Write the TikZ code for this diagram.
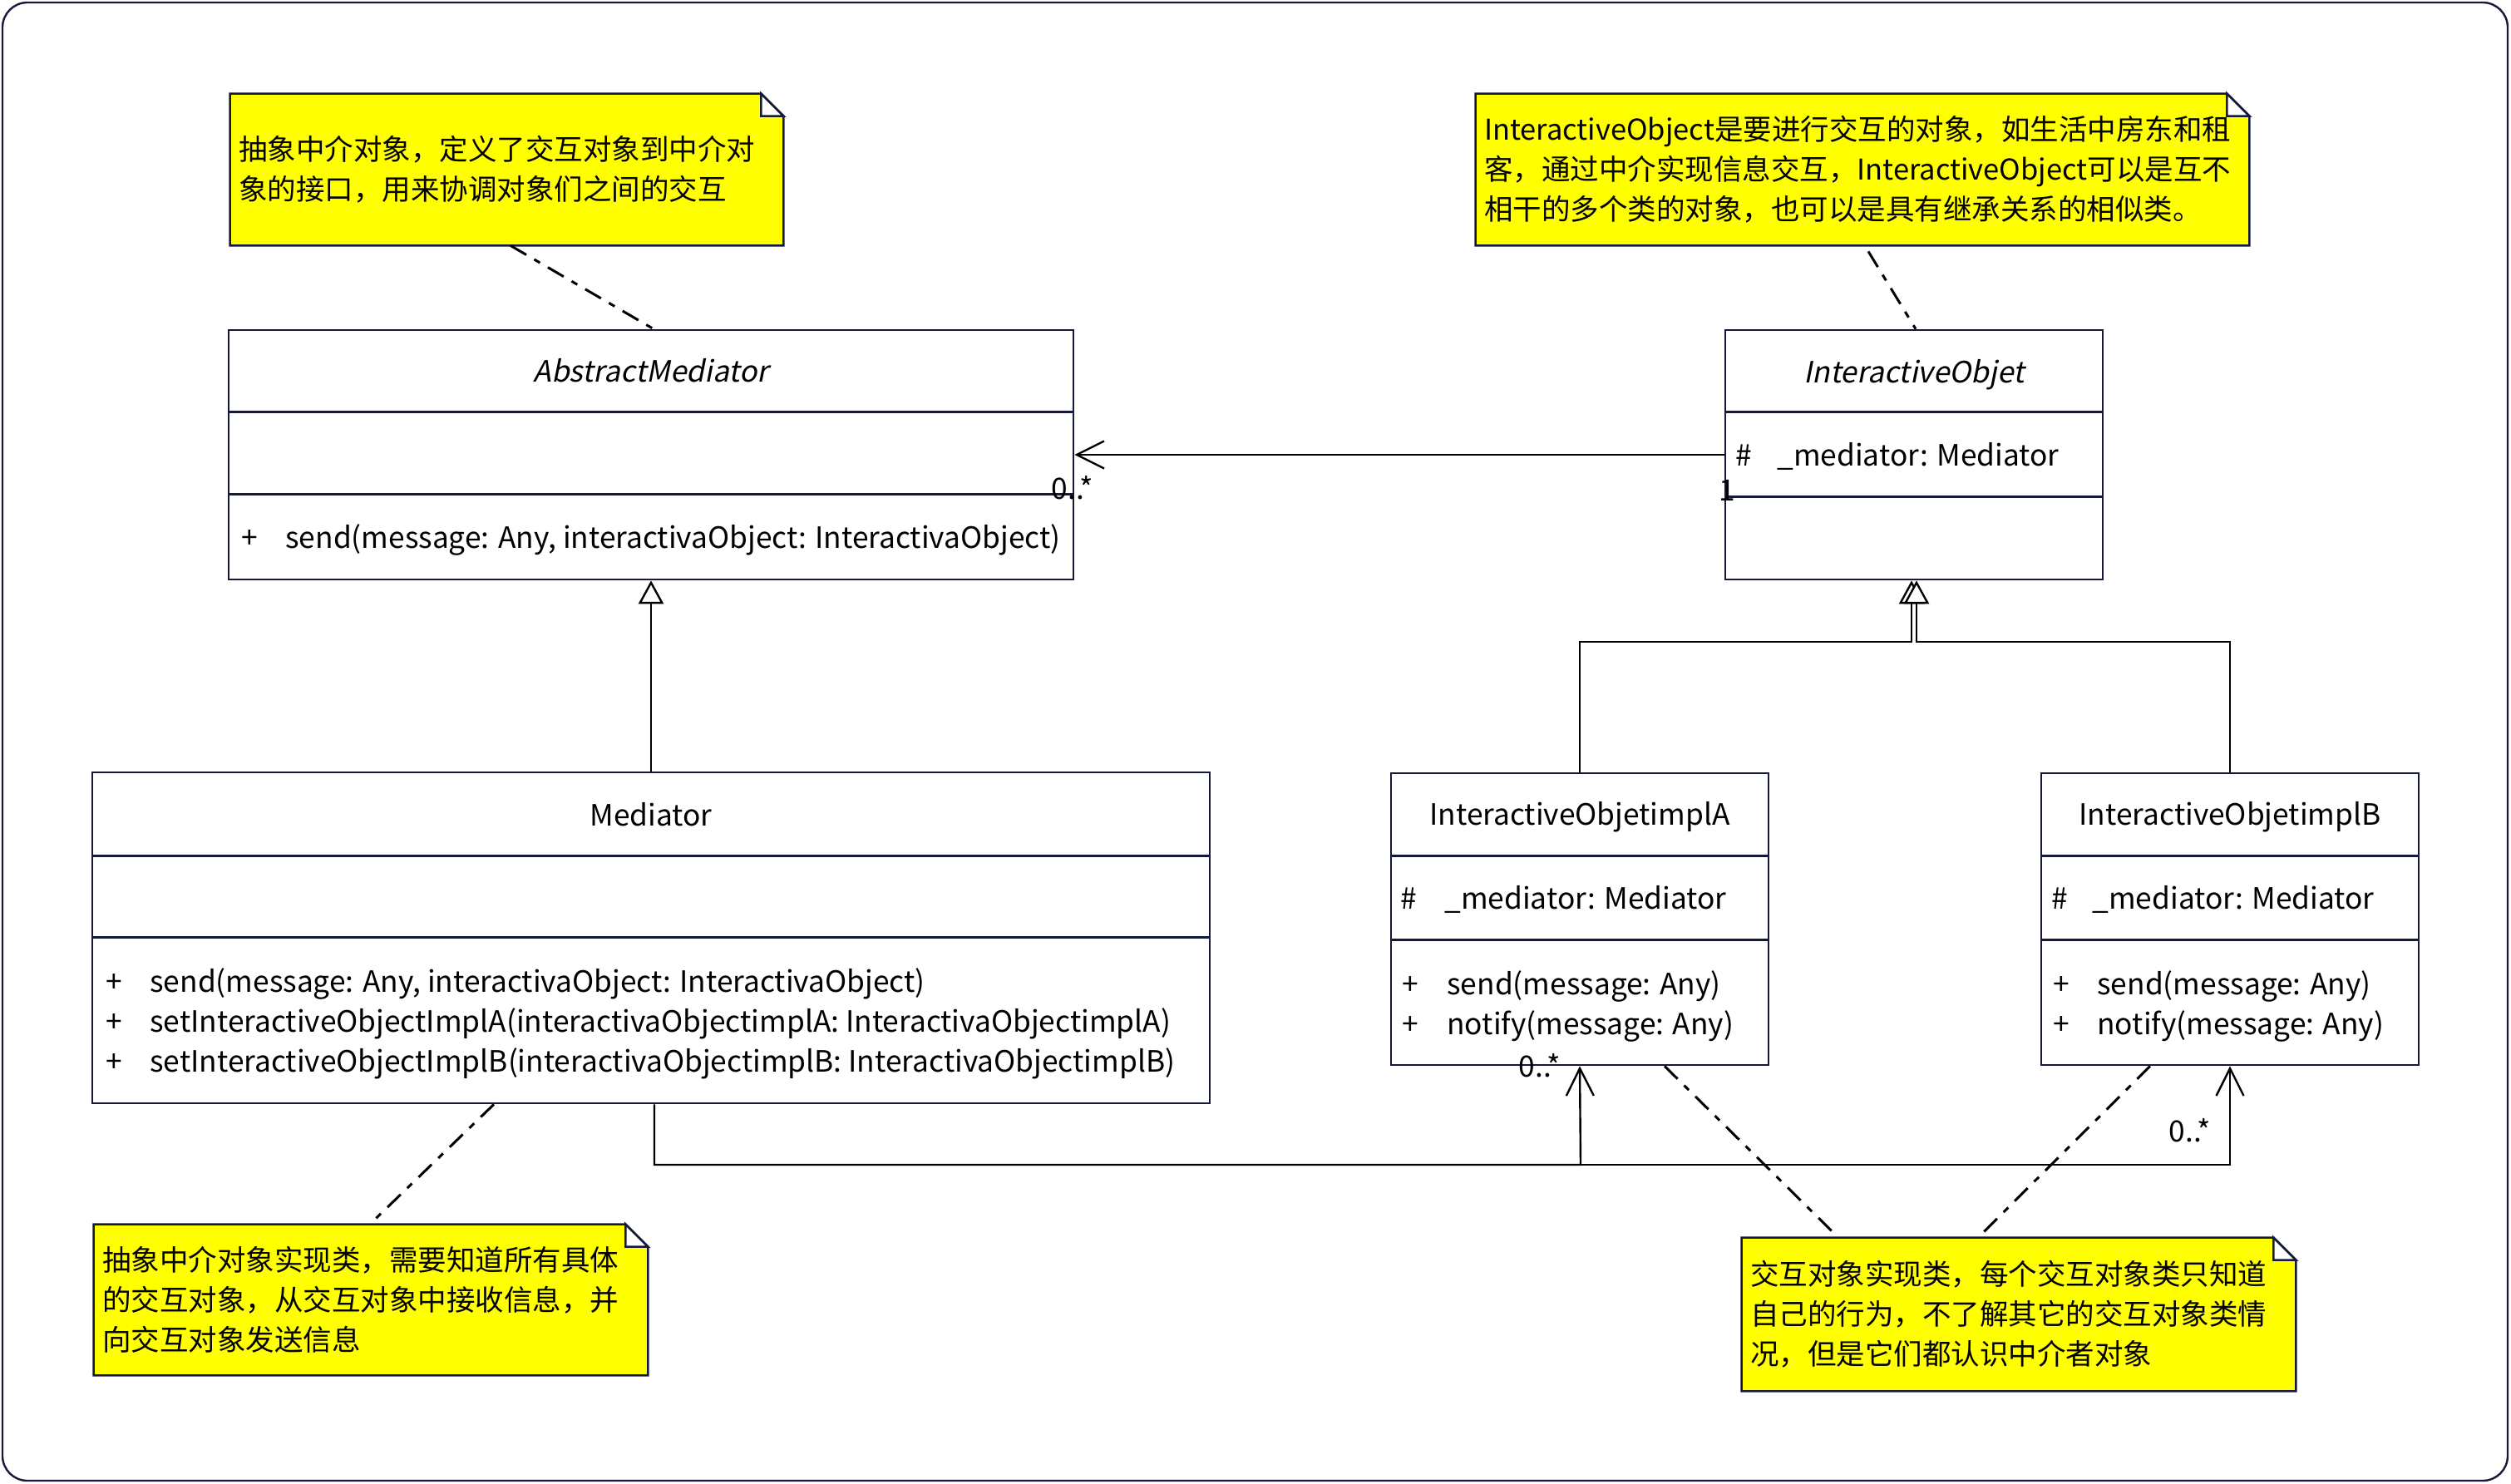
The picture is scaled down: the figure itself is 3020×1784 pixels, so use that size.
\documentclass[tikz,border=0pt]{standalone}
\usepackage{fontspec}
\setmainfont{Noto Sans CJK SC}
\newfontfamily\itfont{Noto Sans CJK SC}[FakeSlant=0.2]
\usetikzlibrary{arrows.meta,backgrounds}
\definecolor{navy}{RGB}{22,26,58}
\definecolor{noteyellow}{RGB}{255,255,0}
\newcommand\notebody[1]{%
  \begin{scope}[on background layer]
    \filldraw[notebg] (#1.north west) -- ([xshift=-13.5pt]#1.north east) -- ([yshift=-13.5pt]#1.north east) -- (#1.south east) -- (#1.south west) -- cycle;
    \filldraw[notebg, fill=white] ([xshift=-13.5pt]#1.north east) -- ([xshift=-13.5pt,yshift=-13.5pt]#1.north east) -- ([yshift=-13.5pt]#1.north east) -- cycle;
  \end{scope}}
\begin{document}
\begin{tikzpicture}[x=0.5pt,y=-0.5pt,
  font=\fontsize{17.65pt}{24pt}\selectfont,
  box/.style={draw=navy, line width=1.3pt, fill=white, inner sep=0pt},
  divl/.style={draw=navy, line width=1.3pt},
  ttl/.style={inner sep=0pt, anchor=base},
  mem/.style={inner sep=0pt, anchor=base west},
  mult/.style={inner sep=0pt},
  notetxt/.style={inner xsep=5pt, inner ysep=0pt, align=left, font=\fontsize{17.25pt}{24pt}\selectfont},
  notebg/.style={fill=noteyellow, draw=navy, line width=1.3pt},
  assoc/.style={draw=black, line width=1.2pt, -{Straight Barb[length=16.5pt,width=16.5pt]}},
  gen/.style={draw=black, line width=1.2pt, -{Triangle[open, length=14pt, width=15pt, fill=white]}},
  dnote/.style={draw=black, line width=1.5pt, dash pattern=on 11pt off 5.5pt on 4pt off 5.5pt},
  frame/.style={draw=navy, line width=1.2pt, rounded corners=15pt}]
\useasboundingbox (0,0) rectangle (3020,1784);
\draw[frame] (3,3) rectangle (3016,1781);

% ---------- classes ----------
\node[box, minimum width=508pt, minimum height=150pt] (am) at (783,547) {};
\draw[divl] ([yshift=-50pt]am.north west) -- ([yshift=-50pt]am.north east);
\draw[divl] ([yshift=-99.5pt]am.north west) -- ([yshift=-99.5pt]am.north east);
\node[ttl] (amt) at (783,459) {\itfont AbstractMediator};
\node[mem] (amp) at (290,659) {+};
\node[mem] (amo) at (343,659) {send(message: Any, interactivaObject: InteractivaObject)};

\node[box, minimum width=227pt, minimum height=150pt] (io) at (2302,547) {};
\draw[divl] ([yshift=-50pt]io.north west) -- ([yshift=-50pt]io.north east);
\draw[divl] ([yshift=-101pt]io.north west) -- ([yshift=-101pt]io.north east);
\node[ttl] (iot) at (2302,460) {\itfont InteractiveObjet};
\node[mem] (ioh) at (2087,560) {\#};
\node[mem] (ioa) at (2137,560) {\_mediator: Mediator};

\node[box, minimum width=672pt, minimum height=199pt] (med) at (783,1128) {};
\draw[divl] ([yshift=-51pt]med.north west) -- ([yshift=-51pt]med.north east);
\draw[divl] ([yshift=-100pt]med.north west) -- ([yshift=-100pt]med.north east);
\node[ttl] (medt) at (783,993) {Mediator};
\node[mem] (mp1) at (127,1193) {+};
\node[mem] (mo1) at (180,1193) {send(message: Any, interactivaObject: InteractivaObject)};
\node[mem] (mp2) at (127,1241) {+};
\node[mem] (mo2) at (180,1241) {setInteractiveObjectImplA(interactivaObjectimplA: InteractivaObjectimplA)};
\node[mem] (mp3) at (127,1289) {+};
\node[mem] (mo3) at (180,1289) {setInteractiveObjectImplB(interactivaObjectimplB: InteractivaObjectimplB)};

\node[box, minimum width=227pt, minimum height=175.5pt] (a) at (1900,1105.5) {};
\draw[divl] ([yshift=-50.5pt]a.north west) -- ([yshift=-50.5pt]a.north east);
\draw[divl] ([yshift=-101pt]a.north west) -- ([yshift=-101pt]a.north east);
\node[ttl] (at) at (1900,992) {InteractiveObjetimplA};
\node[mem] (ah) at (1684,1093) {\#};
\node[mem] (aa) at (1737,1093) {\_mediator: Mediator};
\node[mem] (ap1) at (1686,1196) {+};
\node[mem] (ao1) at (1740,1196) {send(message: Any)};
\node[mem] (ap2) at (1686,1244) {+};
\node[mem] (ao2) at (1740,1244) {notify(message: Any)};

\node[box, minimum width=227pt, minimum height=175.5pt] (b) at (2682,1105.5) {};
\draw[divl] ([yshift=-50.5pt]b.north west) -- ([yshift=-50.5pt]b.north east);
\draw[divl] ([yshift=-101pt]b.north west) -- ([yshift=-101pt]b.north east);
\node[ttl] (bt) at (2682,992) {InteractiveObjetimplB};
\node[mem] (bh) at (2467,1093) {\#};
\node[mem] (ba) at (2516,1093) {\_mediator: Mediator};
\node[mem] (bp1) at (2469,1196) {+};
\node[mem] (bo1) at (2522,1196) {send(message: Any)};
\node[mem] (bp2) at (2469,1244) {+};
\node[mem] (bo2) at (2522,1244) {notify(message: Any)};

% ---------- notes ----------
\node[notetxt, text width=322.5pt, minimum height=91pt] (n1) at (609.5,204)
  {抽象中介对象，定义了交互对象到中介对\\象的接口，用来协调对象们之间的交互};
\notebody{n1}
\node[notetxt, text width=455pt, minimum height=91pt] (n2) at (2240,204)
  {InteractiveObject是要进行交互的对象，如生活中房东和租\\客，通过中介实现信息交互，InteractiveObject可以是互不\\相干的多个类的对象，也可以是具有继承关系的相似类。};
\notebody{n2}
\node[notetxt, text width=323pt, minimum height=90.5pt] (n3) at (446,1563.5)
  {抽象中介对象实现类，需要知道所有具体\\的交互对象，从交互对象中接收信息，并\\向交互对象发送信息};
\notebody{n3}
\node[notetxt, text width=323pt, minimum height=92pt] (n4) at (2428,1581)
  {交互对象实现类，每个交互对象类只知道\\自己的行为，不了解其它的交互对象类情\\况，但是它们都认识中介者对象};
\notebody{n4}

% ---------- connectors ----------
\draw[assoc] (io.west) -- (am.east);
\node[mult] (m1) at (1290,587) {0..*};
\node[mult] (m2) at (2077,590) {1};

\draw[gen] (med.north) -- (am.south);

\coordinate (jn) at (2302,772);
\draw[gen] (a.north) |- ([xshift=-1.5pt]jn) -- ([xshift=-1.5pt]io.south);
\draw[gen] (b.north) |- ([xshift=1.5pt]jn) -- ([xshift=1.5pt]io.south);

\coordinate (ja) at (1901,1401);
\draw[assoc] ([xshift=2pt]med.south) |- (ja) -- (a.south);
\draw[assoc] (ja) -| (b.south);
\node[mult] (m3) at (1852,1282) {0..*};
\node[mult] (m4) at (2634,1360) {0..*};

\draw[dnote] ([xshift=2.25pt]n1.south) -- ([xshift=1.5pt]am.north);
\draw[dnote] ([xshift=3.5pt,yshift=-3.5pt]n2.south) -- ([xshift=1pt]io.north);
\draw[dnote] ([xshift=-94.5pt]med.south) -- ([xshift=2.5pt,yshift=3pt]n3.north);
\draw[dnote] ([xshift=51pt]a.south) -- ([xshift=-111.5pt,yshift=3pt]n4.north);
\draw[dnote] ([xshift=-48pt]b.south) -- ([xshift=-21.5pt,yshift=3pt]n4.north);
\end{tikzpicture}
\end{document}
